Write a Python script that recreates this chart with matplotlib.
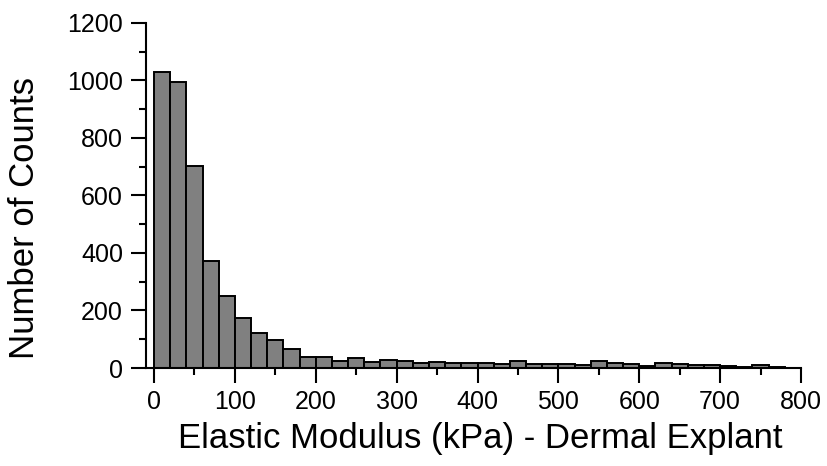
import numpy as np
import matplotlib.pyplot as plt
from matplotlib.ticker import MultipleLocator

plt.rcParams['font.family'] = ['Liberation Sans', 'DejaVu Sans']

# histogram: 20 kPa bins from 0 to 800
bin_edges = np.arange(0, 820, 20)
counts = [1030, 995, 702, 372, 250, 173, 123, 98, 67, 37,
          37, 24, 35, 20, 28, 23, 16, 21, 17, 16,
          17, 13, 24, 15, 13, 15, 9, 24, 17, 15,
          7, 19, 14, 12, 12, 8, 4, 10, 3, 1]

fig = plt.figure(figsize=(8.27, 4.66), dpi=100)
ax = fig.add_axes([0.1765, 0.2103, 0.792, 0.7407])

ax.bar(bin_edges[:-1], counts, width=20, align='edge',
       color='#808080', edgecolor='black', linewidth=1.4)

ax.set_xlim(-10, 800)
ax.set_ylim(0, 1200)
ax.xaxis.set_major_locator(MultipleLocator(100))
ax.xaxis.set_minor_locator(MultipleLocator(50))
ax.yaxis.set_major_locator(MultipleLocator(200))
ax.yaxis.set_minor_locator(MultipleLocator(100))

for s in ['top', 'right']:
    ax.spines[s].set_visible(False)
for s in ['left', 'bottom']:
    ax.spines[s].set_linewidth(1.5)

ax.tick_params(which='major', direction='out', length=10.5, width=1.5,
               labelsize=18, pad=5)
ax.tick_params(axis='y', which='major', pad=6)
ax.tick_params(which='minor', direction='out', length=5, width=1.5)

ax.set_xlabel('Elastic Modulus (kPa) - Dermal Explant', fontsize=25)
ax.xaxis.set_label_coords(0.51, -0.155)
ax.set_ylabel('Number of Counts', fontsize=25, va='center')
ax.yaxis.set_label_coords(-0.185, 0.434)

fig.savefig('out.png', dpi=100)
